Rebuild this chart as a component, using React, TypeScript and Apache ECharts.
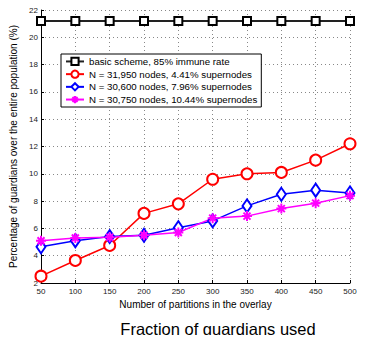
import React, { useEffect, useRef } from "react";
import * as echarts from "echarts";

const xValues = [50, 100, 150, 200, 250, 300, 350, 400, 450, 500];
const basicScheme = [21.2, 21.2, 21.2, 21.2, 21.2, 21.2, 21.2, 21.2, 21.2, 21.2];
const n31950 = [2.5, 3.65, 4.75, 7.1, 7.8, 9.6, 10.0, 10.1, 11.0, 12.2];
const n30600 = [4.65, 5.1, 5.4, 5.5, 6.05, 6.55, 7.65, 8.5, 8.8, 8.6];
const n30750 = [5.1, 5.3, 5.35, 5.5, 5.7, 6.75, 6.9, 7.45, 7.85, 8.4];
const seriesNames = [
  "basic scheme, 85% immune rate",
  "N = 31,950 nodes, 4.41% supernodes",
  "N = 30,600 nodes, 7.96% supernodes",
  "N = 30,750 nodes, 10.44% supernodes",
];

const FONT = "Liberation Sans, Arial, sans-serif";
const STAR = "path://M5,0L5,10M0,5L10,5M1.5,1.5L8.5,8.5M8.5,1.5L1.5,8.5";

export default function App() {
  const ref = useRef<HTMLDivElement>(null);
  useEffect(() => {
    if (!ref.current) return;
    const chart = echarts.init(ref.current, null, { renderer: "svg" });
    const pair = (arr: number[]) => xValues.map((x, i) => [x, arr[i]]);
    chart.setOption({
      animation: false,
      backgroundColor: "#fff",
      textStyle: { fontFamily: FONT },
      grid: { left: 41, right: 15, top: 10, bottom: 60 },
      graphic: [
        {
          type: "text",
          x: 218,
          y: 329,
          style: {
            text: "Fraction of guardians used",
            fontSize: 16.5,
            fontFamily: FONT,
            fill: "#000",
            align: "center",
            verticalAlign: "middle",
          },
        },
      ],
      legend: {
        orient: "vertical",
        left: 61,
        top: 54,
        padding: [1.7, 4, 1.7, 4],
        itemGap: 1.2,
        itemWidth: 18,
        itemHeight: 9,
        backgroundColor: "#fff",
        borderColor: "#000",
        borderWidth: 1,
        borderRadius: 0,
        textStyle: { fontSize: 9.7, lineHeight: 11.5, color: "#000", fontFamily: FONT },
        data: seriesNames,
      },
      xAxis: {
        type: "value",
        min: 50,
        max: 500,
        interval: 50,
        name: "Number of partitions in the overlay",
        nameLocation: "middle",
        nameGap: 15,
        nameTextStyle: { fontSize: 10, color: "#000", fontFamily: FONT },
        axisLine: { lineStyle: { color: "#000", width: 1 } },
        axisTick: { inside: true, length: 3, lineStyle: { color: "#000" } },
        axisLabel: { fontSize: 8, color: "#222", margin: 4, fontFamily: FONT },
        splitLine: { show: true, lineStyle: { color: "#888", type: [1, 3], width: 1 } },
      },
      yAxis: {
        type: "value",
        min: 2,
        max: 22,
        interval: 2,
        name: "Percentage of guardians over the entire population (%)",
        nameLocation: "middle",
        nameGap: 13.5,
        nameTextStyle: { fontSize: 10, color: "#000", fontFamily: FONT },
        axisLine: { show: true, lineStyle: { color: "#000", width: 1 } },
        axisTick: { show: true, inside: true, length: 3, lineStyle: { color: "#000" } },
        axisLabel: { fontSize: 8, color: "#222", margin: 3, fontFamily: FONT },
        splitLine: { show: true, lineStyle: { color: "#888", type: [1, 3], width: 1 } },
      },
      series: [
        {
          name: seriesNames[0],
          type: "line",
          data: pair(basicScheme),
          color: "#000",
          symbol: "emptyRect",
          symbolSize: 8,
          lineStyle: { width: 2, color: "#222" },
          itemStyle: { color: "#000", borderWidth: 1.5 },
        },
        {
          name: seriesNames[1],
          type: "line",
          data: pair(n31950),
          color: "#ff0000",
          symbol: "emptyCircle",
          symbolSize: 11,
          lineStyle: { width: 1.5, color: "#ff0000" },
          itemStyle: { color: "#ff0000", borderWidth: 1.5 },
        },
        {
          name: seriesNames[2],
          type: "line",
          data: pair(n30600),
          color: "#0000ff",
          symbol: "emptyDiamond",
          symbolSize: [9, 13],
          lineStyle: { width: 1.5, color: "#0000ff" },
          itemStyle: { color: "#0000ff", borderWidth: 1.5 },
        },
        {
          name: seriesNames[3],
          type: "line",
          data: pair(n30750),
          color: "#ff00ff",
          symbol: STAR,
          symbolSize: 10,
          lineStyle: { width: 1.5, color: "#ff00ff" },
          itemStyle: { color: "#ff00ff", borderColor: "#ff00ff", borderWidth: 2 },
        },
      ],
    });
    return () => chart.dispose();
  }, []);
  return <div ref={ref} style={{ width: 365, height: 343, margin: -8 }} />;
}
